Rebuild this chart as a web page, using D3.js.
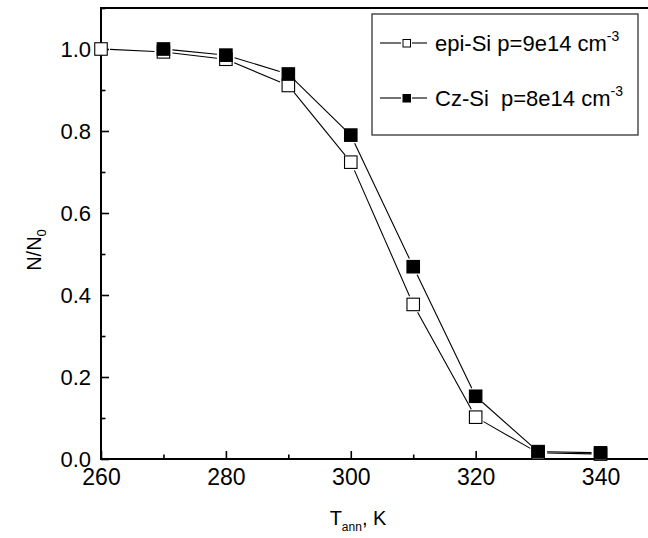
<!DOCTYPE html>
<html>
<head>
<meta charset="utf-8">
<script src="https://cdn.jsdelivr.net/npm/d3@7"></script>
<style>
  html, body { margin: 0; padding: 0; background: #fff; }
  svg { display: block; font-family: "Liberation Sans", Arial, sans-serif; }
</style>
</head>
<body>
<div id="chart"></div>
<script>
// ---- data ----
const temperatures = [260, 270, 280, 290, 300, 310, 320, 330, 340];
const epiValues = [1.0, 0.993, 0.975, 0.911, 0.724, 0.377, 0.102, 0.015, 0.012];
const czTemps = [270, 280, 290, 300, 310, 320, 330, 340];
const czValues = [1.0, 0.985, 0.939, 0.79, 0.469, 0.153, 0.018, 0.015];
const xTickLabels = [260, 280, 300, 320, 340];
const yTickLabels = [0.0, 0.2, 0.4, 0.6, 0.8, 1.0];
const seriesNames = ["epi-Si p=9e14 cm", "Cz-Si  p=8e14 cm"];

const W = 648, H = 538;
const svg = d3.select("#chart").append("svg").attr("width", W).attr("height", H);

const x = d3.scaleLinear().domain([260, 350]).range([101, 663]);
const y = d3.scaleLinear().domain([0, 1.1]).range([459, 8]);

// axes
const xMinor = d3.range(260, 351, 10);
const yMinor = d3.range(0, 1.11, 0.1);

const gx = svg.append("g").attr("transform", `translate(0,${y(0)})`);
gx.call(d3.axisBottom(x).tickValues(xMinor.filter(v => v % 20 !== 0)).tickSize(-4.5).tickFormat(""));
gx.call(g => g.select(".domain").remove());
const gx2 = svg.append("g").attr("transform", `translate(0,${y(0)})`);
gx2.call(d3.axisBottom(x).tickValues(xTickLabels).tickSize(-8).tickPadding(10).tickFormat(d3.format("d")));
gx2.select(".domain").remove();
gx2.selectAll("text").attr("font-size", 23).attr("fill", "#000").attr("font-family", "Liberation Sans, Arial, sans-serif");

const gy = svg.append("g").attr("transform", `translate(${x(260)},0)`);
gy.call(d3.axisLeft(y).tickValues(yMinor.filter((v, i) => i % 2 === 1)).tickSize(-4.5).tickFormat(""));
gy.select(".domain").remove();
const gy2 = svg.append("g").attr("transform", `translate(${x(260)},0)`);
gy2.call(d3.axisLeft(y).tickValues(yTickLabels).tickSize(-8).tickPadding(10).tickFormat(d3.format(".1f")));
gy2.select(".domain").remove();
gy2.selectAll("text").attr("font-size", 22).attr("fill", "#000").attr("font-family", "Liberation Sans, Arial, sans-serif");

svg.selectAll(".tick line").attr("stroke", "#000").attr("stroke-width", 1.6);

// frame lines
svg.append("path")
  .attr("d", `M${W},${y(1.1)}H${x(260)}V${y(0)}H${W}`)
  .attr("fill", "none").attr("stroke", "#000").attr("stroke-width", 2);

// series drawing
function drawSeries(xs, ys, filled) {
  const pts = xs.map((t, i) => [x(t), y(ys[i])]);
  const g = svg.append("g");
  const gap = 9;
  for (let i = 0; i < pts.length - 1; i++) {
    const [x1, y1] = pts[i], [x2, y2] = pts[i + 1];
    const dx = x2 - x1, dy = y2 - y1, len = Math.hypot(dx, dy);
    if (len <= 2 * gap) continue;
    const ux = dx / len, uy = dy / len;
    g.append("line")
      .attr("x1", x1 + ux * gap).attr("y1", y1 + uy * gap)
      .attr("x2", x2 - ux * gap).attr("y2", y2 - uy * gap)
      .attr("stroke", "#000").attr("stroke-width", 1.1);
  }
  const s = 12.5;
  g.selectAll("rect").data(pts).enter().append("rect")
    .attr("x", d => d[0] - s / 2).attr("y", d => d[1] - s / 2)
    .attr("width", s).attr("height", s)
    .attr("fill", filled ? "#000" : "#fff")
    .attr("stroke", "#000").attr("stroke-width", 1.1);
}
drawSeries(temperatures, epiValues, false);
drawSeries(czTemps, czValues, true);

// legend
const lg = svg.append("g");
lg.append("rect").attr("x", 372).attr("y", 14).attr("width", 266).attr("height", 121)
  .attr("fill", "#fff").attr("stroke", "#333").attr("stroke-width", 1.3);
[[43, false], [98, true]].forEach(([ly, filled], i) => {
  lg.append("line").attr("x1", 380).attr("x2", 401).attr("y1", ly).attr("y2", ly).attr("stroke", "#000").attr("stroke-width", 1.1);
  lg.append("line").attr("x1", 412).attr("x2", 427).attr("y1", ly).attr("y2", ly).attr("stroke", "#000").attr("stroke-width", 1.1);
  lg.append("rect").attr("x", 403).attr("y", ly - 3.5).attr("width", 7.5).attr("height", 7.5)
    .attr("fill", filled ? "#000" : "#fff").attr("stroke", "#000").attr("stroke-width", 1);
  const t = lg.append("text").attr("x", 435).attr("y", ly + 7.5).attr("font-size", 22)
    .attr("fill", "#000").style("white-space", "pre");
  t.append("tspan").text(seriesNames[i]);
  t.append("tspan").attr("dy", -10).attr("font-size", 14).text("-3");
});

// axis titles
const yt = svg.append("text")
  .attr("transform", "translate(41,250) rotate(-90)")
  .attr("text-anchor", "middle").attr("font-size", 20).attr("fill", "#000");
yt.append("tspan").text("N/N");
yt.append("tspan").attr("dy", 5).attr("font-size", 13).text("0");

const xt = svg.append("text")
  .attr("x", 358).attr("y", 525)
  .attr("text-anchor", "middle").attr("font-size", 20).attr("fill", "#000");
xt.append("tspan").text("T");
xt.append("tspan").attr("dy", 6).attr("font-size", 12).text("ann");
xt.append("tspan").attr("dy", -6).text(", K");
</script>
</body>
</html>
